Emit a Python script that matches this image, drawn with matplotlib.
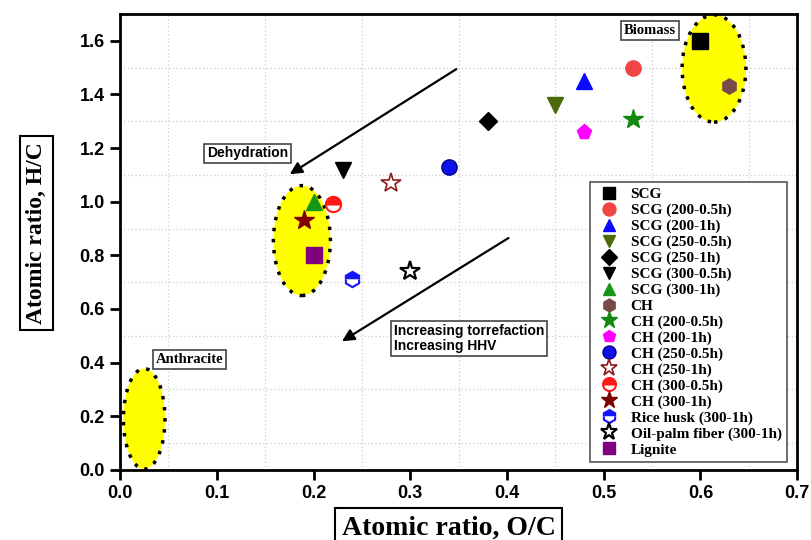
"""
Van Krevelen diagram: H/C vs O/C of SCG, CH and reference fuels.
"""
import matplotlib
matplotlib.use("Agg")
from matplotlib import pyplot as plt
from matplotlib.patches import Ellipse
from matplotlib.ticker import MultipleLocator

# samples (label, O/C, H/C)
labels = ["SCG", "SCG (200-0.5h)", "SCG (200-1h)", "SCG (250-0.5h)", "SCG (250-1h)",
          "SCG (300-0.5h)", "SCG (300-1h)", "CH", "CH (200-0.5h)", "CH (200-1h)",
          "CH (250-0.5h)", "CH (250-1h)", "CH (300-0.5h)", "CH (300-1h)",
          "Rice husk (300-1h)", "Oil-palm fiber (300-1h)", "Lignite"]
oc = [0.60, 0.53, 0.48, 0.45, 0.38, 0.23, 0.20, 0.63, 0.53, 0.48,
      0.34, 0.28, 0.22, 0.19, 0.24, 0.30, 0.20]
hc = [1.60, 1.50, 1.45, 1.36, 1.30, 1.12, 1.00, 1.43, 1.31, 1.26,
      1.13, 1.07, 0.99, 0.93, 0.71, 0.74, 0.80]

# fuel regions (name, centre O/C, centre H/C, width, height)
regions = ["Anthracite", "Lignite", "Biomass"]
reg_x = [0.025, 0.188, 0.614]
reg_y = [0.19, 0.855, 1.497]
reg_w = [0.043, 0.059, 0.066]
reg_h = [0.375, 0.41, 0.40]

# marker styles, one per sample
styles = [
    dict(marker="s", color="black"),
    dict(marker="o", color="#f04545"),
    dict(marker="^", color="#0a0aff"),
    dict(marker="v", color="#4a6b08"),
    dict(marker="D", color="black", ms=9),
    dict(marker="v", color="black"),
    dict(marker="^", color="#169616"),
    dict(marker="h", color="#7a4a48"),
    dict(marker="*", color="#128a12", ms=15),
    dict(marker="p", color="#ff00ff"),
    dict(marker="o", color="#1010e8", mec="#000090"),
    dict(marker="*", color="#8b1a1a", mfc="white", ms=15, mew=1.2),
    dict(marker="o", color="#ff1a1a", fillstyle="top", mfcalt="white", mew=1.5),
    dict(marker="*", color="#800000", ms=15),
    dict(marker="h", color="#1414ff", fillstyle="top", mfcalt="white", mew=1.5),
    dict(marker="*", color="black", mfc="white", ms=15, mew=1.6),
    dict(marker="s", color="#800080"),
]

serif = "Liberation Serif"
sans = "Liberation Sans"

fig = plt.figure(figsize=(8.11, 5.40), dpi=100)
ax = fig.add_axes([0.148, 0.13, 0.835, 0.844])

for name, x, y, w, h in zip(regions, reg_x, reg_y, reg_w, reg_h):
    ax.add_patch(Ellipse((x, y), w, h, facecolor="yellow", edgecolor="black",
                         linestyle=(0, (1, 2.2)), linewidth=2.5, zorder=2))

for lab, x, y, st in zip(labels, oc, hc, styles):
    st = dict(st)
    kw = dict(linestyle="none", marker=st.pop("marker"), markersize=st.pop("ms", 11),
              color=st.pop("color"), label=lab, zorder=4)
    if "mfc" in st:
        kw["markerfacecolor"] = st.pop("mfc")
    if "mec" in st:
        kw["markeredgecolor"] = st.pop("mec")
    if "mfcalt" in st:
        kw["markerfacecoloralt"] = st.pop("mfcalt")
    if "mew" in st:
        kw["markeredgewidth"] = st.pop("mew")
    kw.update(st)
    ax.plot(x, y, **kw)

# arrows
ax.annotate("", xy=(0.173, 1.097), xytext=(0.35, 1.50),
            arrowprops=dict(arrowstyle="-|>", color="black", lw=1.6, mutation_scale=18))
ax.annotate("", xy=(0.227, 0.474), xytext=(0.404, 0.87),
            arrowprops=dict(arrowstyle="-|>", color="black", lw=1.6, mutation_scale=18))

box = dict(boxstyle="square,pad=0.2", facecolor="white", edgecolor="#444444", lw=1.2)
ax.text(0.132, 1.18, "Dehydration", family=sans, weight="bold", fontsize=10,
        ha="center", va="center", bbox=box, zorder=5)
ax.text(0.548, 1.638, "Biomass", family=serif, weight="bold", fontsize=10.5,
        ha="center", va="center", bbox=box, zorder=5)
ax.text(0.072, 0.41, "Anthracite", family=serif, weight="bold", fontsize=10.5,
        ha="center", va="center", bbox=box, zorder=5)
ax.text(0.283, 0.49, "Increasing torrefaction\nIncreasing HHV", family=sans,
        weight="bold", fontsize=10, ha="left", va="center", linespacing=1.1,
        bbox=box, zorder=5)

ax.set_xlim(0, 0.7)
ax.set_ylim(0, 1.70)
ax.xaxis.set_major_locator(MultipleLocator(0.1))
ax.xaxis.set_minor_locator(MultipleLocator(0.05))
ax.yaxis.set_major_locator(MultipleLocator(0.2))
ax.yaxis.set_minor_locator(MultipleLocator(0.1))
ax.grid(which="minor", color="#cccccc", linestyle=(0, (1, 2)), linewidth=0.9)
ax.tick_params(which="major", direction="out", length=7, width=2, pad=4)
ax.tick_params(which="minor", length=0)
for sp in ax.spines.values():
    sp.set_linewidth(2)
for t in ax.get_xticklabels() + ax.get_yticklabels():
    t.set_fontfamily(sans)
    t.set_fontweight("bold")
    t.set_fontsize(13)

lbox = dict(boxstyle="square,pad=0.25", facecolor="white", edgecolor="black", lw=1.5)
ax.set_xlabel("Atomic ratio, O/C", family=serif, weight="bold", fontsize=20, bbox=lbox)
ax.set_ylabel("Atomic ratio, H/C", family=serif, weight="bold", fontsize=17, bbox=lbox)
ax.xaxis.set_label_coords(0.485, -0.10)
ax.yaxis.set_label_coords(-0.108, 0.52)

leg = ax.legend(loc="lower right", bbox_to_anchor=(0.996, 0.0), fancybox=False,
                edgecolor="#555555", framealpha=1, prop=dict(family=serif, weight="bold", size=11),
                labelspacing=0.14, handletextpad=0.5, borderpad=0.35, markerscale=0.85,
                handlelength=1.8)
leg.get_frame().set_linewidth(1.2)

fig.savefig("out.png", dpi=100)
